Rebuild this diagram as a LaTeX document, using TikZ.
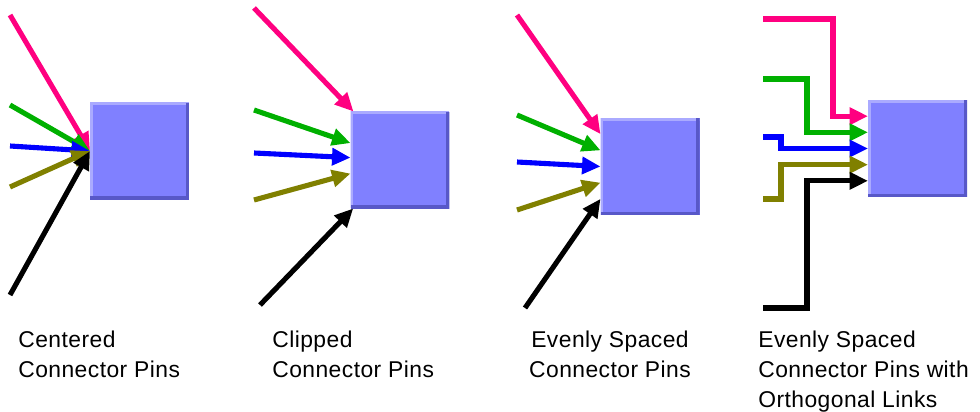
\documentclass[tikz,border=0pt]{standalone}
\usepackage{fontspec}
\setmainfont{Liberation Sans}[LetterSpace=2]
\usetikzlibrary{arrows.meta,positioning,calc}
\definecolor{pinkpin}{RGB}{255,0,128}
\definecolor{greenpin}{RGB}{0,176,0}
\definecolor{bluepin}{RGB}{0,0,255}
\definecolor{olivepin}{RGB}{128,128,0}
\definecolor{blackpin}{RGB}{0,0,0}
\definecolor{boxfill}{RGB}{128,128,255}
\definecolor{boxlight}{RGB}{170,170,255}
\definecolor{boxdark}{RGB}{88,88,200}

\begin{document}
\begin{tikzpicture}[
  x=0.02cm, y=-0.02cm,
  font=\fontsize{13}{17}\selectfont,
  blockbox/.style={fill=boxfill, minimum width=1.98cm, minimum height=1.94cm, inner sep=0pt, outer sep=0pt,
    path picture={
      \draw[boxlight, line width=3.2pt] (path picture bounding box.south west) -- (path picture bounding box.north west) -- (path picture bounding box.north east);
      \draw[boxdark, line width=3.6pt] (path picture bounding box.north east) -- (path picture bounding box.south east) -- (path picture bounding box.south west);
    }},
  pin/.style={line width=2.9pt, -{Triangle[length=10.5pt,width=9.5pt]}},
  caption/.style={inner sep=0pt, anchor=north west, align=left}
]
\useasboundingbox (0,0) rectangle (980,412);

\node[blockbox] (ctrbox) at (139.5,151) {};
\node[blockbox] (clipbox) at (400,160) {};
\node[blockbox] (evenbox) at (650,166.5) {};
\node[blockbox] (orthobox) at (917.5,148.5) {};

\foreach \col/\sx/\sy [count=\i] in {pinkpin/10/15, greenpin/10/105, bluepin/10/146, olivepin/10/187, blackpin/10/295} {
  \coordinate (c\i) at (\sx,\sy);
  \draw[pin, \col] (c\i) -- (ctrbox.west);
}

\foreach \col/\sx/\sy [count=\i] in {pinkpin/254/8, greenpin/254/110, bluepin/254/153, olivepin/254/200, blackpin/260/305} {
  \coordinate (k\i) at (\sx,\sy);
  \draw[pin, \col] (k\i) -- (clipbox);
}

\foreach \col/\sx/\sy [count=\i] in {pinkpin/517/15, greenpin/517/115, bluepin/517/162, olivepin/517/210, blackpin/525/308} {
  \coordinate (e\i) at (\sx,\sy);
  \coordinate (ep\i) at ($(evenbox.north west)!\i/6!(evenbox.south west)$);
  \draw[pin, \col] (e\i) -- (ep\i);
}

\foreach \col/\bx/\sy [count=\i] in {pinkpin/833/19, greenpin/807/79, bluepin/781/137, olivepin/781/199, blackpin/807/308} {
  \coordinate (o\i) at (763,\sy);
  \coordinate (op\i) at ($(orthobox.north west)!\i/6!(orthobox.south west)$);
  \draw[pin, \col] (o\i) -- (\bx,\sy) |- (op\i);
}

\node[caption] (ctrtext) at (18,331) {Centered\\Connector Pins};
\node[caption] (cliptext) at (272,331) {Clipped\\Connector Pins};
\node[caption, anchor=north, align=center] (eventext) at (610,331) {Evenly Spaced\\Connector Pins};
\node[caption] (orthotext) at (758,331) {Evenly Spaced\\Connector Pins with\\Orthogonal Links};

\end{tikzpicture}
\end{document}
